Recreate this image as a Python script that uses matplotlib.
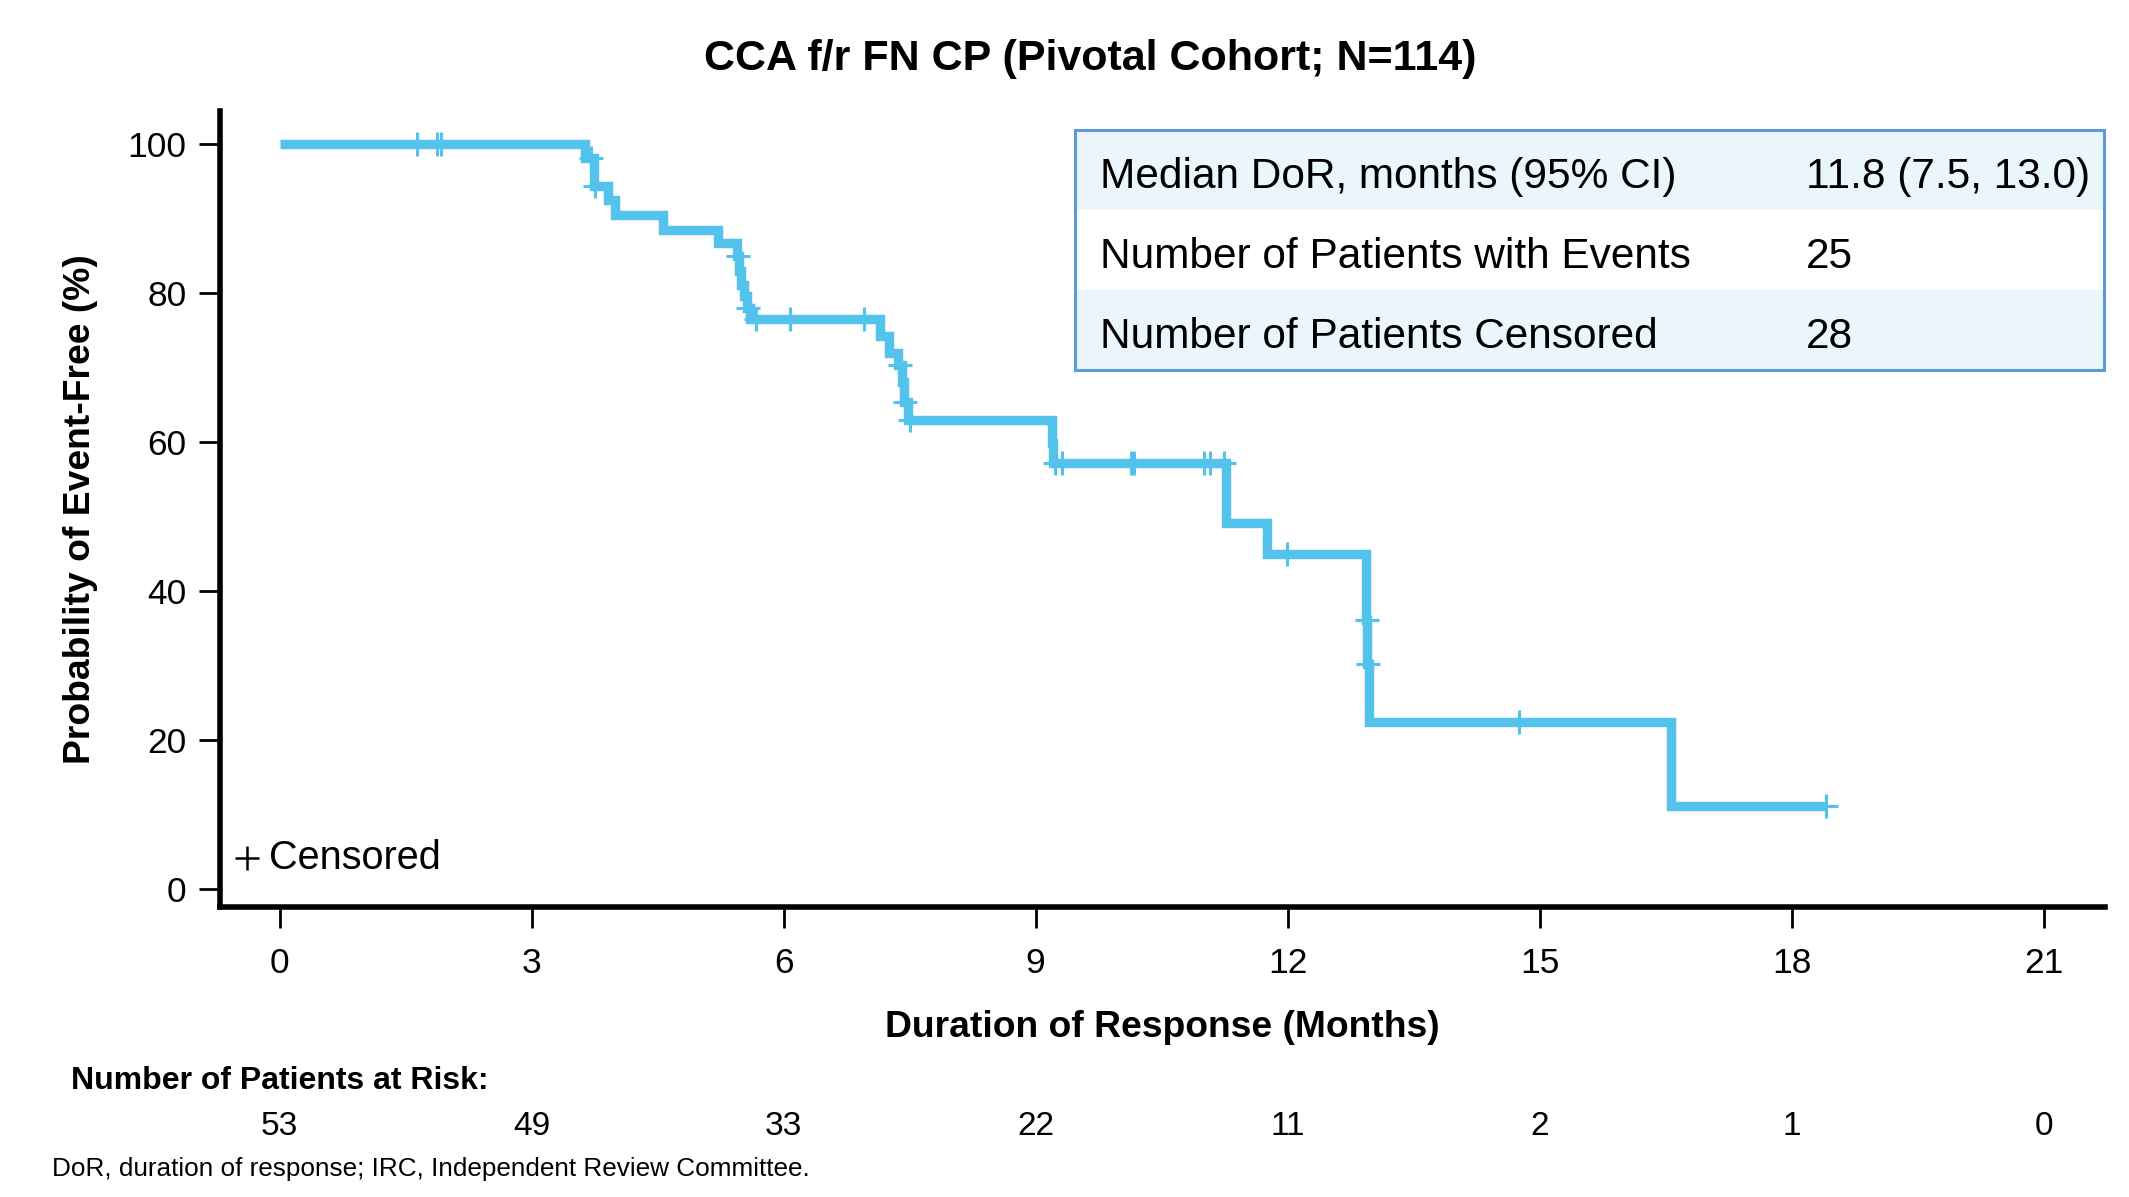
import numpy as np
import matplotlib
matplotlib.use("Agg")
import matplotlib.pyplot as plt
import matplotlib.transforms as mtransforms
from matplotlib.patches import Rectangle

plt.rcParams['font.family'] = ['Liberation Sans', 'DejaVu Sans']

# event times (months) and survival (%) just after each event
event_t = [3.64, 3.74, 3.91, 3.99, 4.56, 5.22, 5.44, 5.47, 5.49, 5.53, 5.56, 5.60,
           7.15, 7.25, 7.36, 7.41, 7.43, 7.48, 9.19, 9.21, 11.27, 11.75,
           12.93, 12.95, 12.97, 16.56]
event_s = [98.1, 94.4, 92.5, 90.5, 88.5, 86.7, 84.9, 83.0, 81.1, 79.6, 78.0, 76.5,
           74.2, 71.9, 70.3, 68.0, 65.4, 63.0, 59.9, 57.2, 49.1, 45.0,
           36.1, 30.3, 22.5, 11.2]
# censored times
cens_t = [1.64, 1.87, 1.92, 3.71, 3.76, 5.46, 5.58, 5.67, 6.07, 6.96,
          7.39, 7.45, 7.50, 9.23, 9.31, 10.14, 10.17, 11.00, 11.08, 11.24,
          11.99, 12.94, 12.96, 14.75, 18.41]

xticks = [0, 3, 6, 9, 12, 15, 18, 21]
yticks = [0, 20, 40, 60, 80, 100]
at_risk = [53, 49, 33, 22, 11, 2, 1, 0]

stat_labels = ['Median DoR, months (95% CI)', 'Number of Patients with Events',
               'Number of Patients Censored']
stat_values = ['11.8 (7.5, 13.0)', '25', '28']

blue = '#53C3EC'

fig = plt.figure(figsize=(21.29, 11.97), dpi=100)
ax = fig.add_axes([0.1033, 0.2423, 0.8854, 0.6650])

# step curve
xs = [0] + event_t + [cens_t[-1]]
ys = [100] + event_s + [event_s[-1]]
ax.step(xs, ys, where='post', color=blue, lw=6.8, solid_capstyle='butt',
        solid_joinstyle='miter', zorder=3)

# censor marks on the curve
idx = np.searchsorted(event_t, cens_t, side='right')
surv_all = np.array([100] + event_s)
ax.plot(cens_t, surv_all[idx], ls='none', marker='+', ms=17, mew=2.2,
        color=blue, zorder=4)

ax.set_xlim(-0.711, 21.73)
ax.set_ylim(-2.35, 104.4)
ax.set_xticks(xticks)
ax.set_yticks(yticks)
ax.tick_params(labelsize=25.5, length=15, width=2)
ax.tick_params(axis='x', pad=14)
ax.tick_params(axis='y', pad=9)
for s in ['top', 'right']:
    ax.spines[s].set_visible(False)
for s in ['left', 'bottom']:
    ax.spines[s].set_linewidth(4)

ax.set_xlabel('Duration of Response (Months)', fontsize=26.8, fontweight='bold')
ax.set_ylabel('Probability of Event-Free (%)', fontsize=26.8, fontweight='bold')
ax.xaxis.set_label_coords(0.5, -0.152)
ax.yaxis.set_label_coords(-0.0738, 0.5)
ax.xaxis.label.set_va('center')
ax.yaxis.label.set_va('center')
fig.text(0.512, 0.951, 'CCA f/r FN CP (Pivotal Cohort; N=114)', fontsize=31,
         fontweight='bold', ha='center', va='center')

ax.plot([0.0143], [0.0616], transform=ax.transAxes, marker='+', ms=17, mew=1.8,
        color='black', ls='none', clip_on=False)
ax.text(0.026, 0.0616, 'Censored', transform=ax.transAxes, fontsize=28.5,
        va='center', ha='left')

# stats box
bx0, bx1 = 0.4538, 0.9993
by_top = 0.976
rh = 0.1005
for i, (lab, val) in enumerate(zip(stat_labels, stat_values)):
    y0 = by_top - (i + 1) * rh
    fc = '#EAF5FC' if i % 2 == 0 else 'white'
    ax.add_patch(Rectangle((bx0, y0), bx1 - bx0, rh, transform=ax.transAxes,
                           facecolor=fc, edgecolor='none', zorder=5,
                           clip_on=False))
    ax.text(0.4668, y0 + rh / 2 - 0.009, lab, transform=ax.transAxes,
            fontsize=30.5, va='center', ha='left', zorder=6)
    ax.text(0.8414, y0 + rh / 2 - 0.009, val, transform=ax.transAxes,
            fontsize=30.5, va='center', ha='left', zorder=6)
ax.add_patch(Rectangle((bx0, by_top - 3 * rh), bx1 - bx0, 3 * rh,
                       transform=ax.transAxes, facecolor='none',
                       edgecolor='#5C9BD6', lw=2.2, zorder=7, clip_on=False))

# number at risk
fig.text(0.0332, 0.097, 'Number of Patients at Risk:', fontsize=23,
         fontweight='bold', ha='left', va='center')
trans = mtransforms.blended_transform_factory(ax.transData, fig.transFigure)
for xt, n in zip(xticks, at_risk):
    ax.text(xt, 0.0585, str(n), transform=trans, fontsize=24, ha='center',
            va='center')

fig.text(0.0242, 0.0234,
         'DoR, duration of response; IRC, Independent Review Committee.',
         fontsize=18.8, ha='left', va='center')

fig.savefig('out.png', dpi=100)
